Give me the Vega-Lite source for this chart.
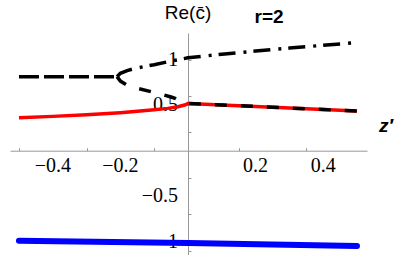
{
  "$schema": "https://vega.github.io/schema/vega-lite/v6.json",
  "width": 357,
  "height": 222,
  "autosize": {"type": "none"},
  "padding": {"left": 10, "top": 33, "right": 48, "bottom": 0},
  "background": "white",
  "config": {"view": {"stroke": null}},
  "datasets": {
    "curves": [
      {"s": "blue", "z": -0.5, "v": -0.989},
      {"s": "blue", "z": 0, "v": -1.015},
      {"s": "blue", "z": 0.5, "v": -1.047},
      {"s": "red", "z": -0.5, "v": 0.363},
      {"s": "red", "z": -0.4, "v": 0.377},
      {"s": "red", "z": -0.3, "v": 0.395},
      {"s": "red", "z": -0.2, "v": 0.418},
      {"s": "red", "z": -0.15, "v": 0.432},
      {"s": "red", "z": -0.1, "v": 0.449},
      {"s": "red", "z": -0.06, "v": 0.465},
      {"s": "red", "z": -0.03, "v": 0.483},
      {"s": "red", "z": -0.01, "v": 0.502},
      {"s": "red", "z": 0, "v": 0.518},
      {"s": "red", "z": 0.1, "v": 0.502},
      {"s": "red", "z": 0.2, "v": 0.486},
      {"s": "red", "z": 0.3, "v": 0.469},
      {"s": "red", "z": 0.4, "v": 0.452},
      {"s": "red", "z": 0.5, "v": 0.436},
      {"s": "left", "z": -0.5, "v": 0.813},
      {"s": "left", "z": -0.21, "v": 0.813},
      {"s": "lower", "z": -0.21, "v": 0.813},
      {"s": "lower", "z": -0.2, "v": 0.765},
      {"s": "lower", "z": -0.18, "v": 0.72},
      {"s": "lower", "z": -0.15, "v": 0.685},
      {"s": "lower", "z": -0.1, "v": 0.64},
      {"s": "lower", "z": -0.05, "v": 0.59},
      {"s": "lower", "z": -0.02, "v": 0.552},
      {"s": "lower", "z": 0, "v": 0.518},
      {"s": "lower", "z": 0.1, "v": 0.502},
      {"s": "lower", "z": 0.2, "v": 0.486},
      {"s": "lower", "z": 0.3, "v": 0.469},
      {"s": "lower", "z": 0.4, "v": 0.452},
      {"s": "lower", "z": 0.5, "v": 0.436},
      {"s": "upper", "z": -0.21, "v": 0.813},
      {"s": "upper", "z": -0.2, "v": 0.85},
      {"s": "upper", "z": -0.18, "v": 0.88},
      {"s": "upper", "z": -0.15, "v": 0.91},
      {"s": "upper", "z": -0.1, "v": 0.945},
      {"s": "upper", "z": -0.05, "v": 0.985},
      {"s": "upper", "z": 0, "v": 1.02},
      {"s": "upper", "z": 0.1, "v": 1.06},
      {"s": "upper", "z": 0.2, "v": 1.095},
      {"s": "upper", "z": 0.3, "v": 1.127},
      {"s": "upper", "z": 0.4, "v": 1.158},
      {"s": "upper", "z": 0.5, "v": 1.187}
    ],
    "xlabels": [
      {"lab": "−0.4", "z": -0.4, "v": 0},
      {"lab": "−0.2", "z": -0.2, "v": 0},
      {"lab": "0.2", "z": 0.2, "v": 0},
      {"lab": "0.4", "z": 0.4, "v": 0}
    ],
    "ylabels": [
      {"lab": "1", "z": 0, "v": 1},
      {"lab": "0.5", "z": 0, "v": 0.5},
      {"lab": "−0.5", "z": 0, "v": -0.5},
      {"lab": "−1", "z": 0, "v": -1}
    ]
  },
  "layer": [
    {
      "data": {"name": "xlabels"},
      "mark": {"type": "text", "font": "Liberation Serif", "fontSize": 20, "align": "center", "baseline": "top", "dy": 5, "color": "black"},
      "encoding": {
        "x": {
          "field": "z", "type": "quantitative",
          "scale": {"domain": [-0.5266, 0.5296], "nice": false, "zero": false},
          "axis": {
            "orient": "bottom", "offset": -104.3, "title": null, "grid": false, "labels": false,
            "values": [-0.5, -0.45, -0.4, -0.35, -0.3, -0.25, -0.2, -0.15, -0.1, -0.05, 0.05, 0.1, 0.15, 0.2, 0.25, 0.3, 0.35, 0.4, 0.45, 0.5],
            "tickSize": -3, "tickColor": "#999999", "tickWidth": 1,
            "domainColor": "#999999", "domainWidth": 1
          }
        },
        "y": {
          "field": "v", "type": "quantitative",
          "scale": {"domain": [-1.146, 1.293], "nice": false, "zero": false},
          "axis": {
            "orient": "left", "offset": -178, "title": null, "grid": false, "labels": false,
            "values": [-1.1, -1, -0.9, -0.8, -0.7, -0.6, -0.5, -0.4, -0.3, -0.2, -0.1, 0.1, 0.2, 0.3, 0.4, 0.5, 0.6, 0.7, 0.8, 0.9, 1, 1.1, 1.2],
            "tickSize": -3, "tickColor": "#999999", "tickWidth": 1,
            "domainColor": "#999999", "domainWidth": 1
          }
        },
        "text": {"field": "lab"}
      }
    },
    {
      "data": {"name": "ylabels"},
      "mark": {"type": "text", "font": "Liberation Serif", "fontSize": 20, "align": "right", "baseline": "middle", "dx": -10, "color": "black"},
      "encoding": {
        "x": {"field": "z", "type": "quantitative", "scale": {"domain": [-0.5266, 0.5296], "nice": false, "zero": false}},
        "y": {"field": "v", "type": "quantitative", "scale": {"domain": [-1.146, 1.293], "nice": false, "zero": false}},
        "text": {"field": "lab"}
      }
    },
    {
      "data": {"name": "curves"},
      "transform": [{"filter": "datum.s === 'blue'"}],
      "mark": {"type": "line", "color": "#0000ff", "strokeWidth": 6, "strokeCap": "round"},
      "encoding": {
        "x": {"field": "z", "type": "quantitative", "scale": {"domain": [-0.5266, 0.5296], "nice": false, "zero": false}},
        "y": {"field": "v", "type": "quantitative", "scale": {"domain": [-1.146, 1.293], "nice": false, "zero": false}}
      }
    },
    {
      "data": {"name": "curves"},
      "transform": [{"filter": "datum.s === 'red'"}],
      "mark": {"type": "line", "color": "#ff0000", "strokeWidth": 3.5},
      "encoding": {
        "x": {"field": "z", "type": "quantitative", "scale": {"domain": [-0.5266, 0.5296], "nice": false, "zero": false}},
        "y": {"field": "v", "type": "quantitative", "scale": {"domain": [-1.146, 1.293], "nice": false, "zero": false}}
      }
    },
    {
      "data": {"name": "curves"},
      "transform": [{"filter": "indexof(['left','lower','upper'], datum.s) >= 0"}],
      "mark": {"type": "line", "color": "black", "strokeWidth": 3.5, "strokeCap": "butt"},
      "encoding": {
        "x": {"field": "z", "type": "quantitative", "scale": {"domain": [-0.5266, 0.5296], "nice": false, "zero": false}},
        "y": {"field": "v", "type": "quantitative", "scale": {"domain": [-1.146, 1.293], "nice": false, "zero": false}},
        "detail": {"field": "s", "type": "nominal"},
        "strokeDash": {
          "field": "s", "type": "nominal",
          "scale": {"domain": ["left", "lower", "upper"], "range": [[20, 5], [12, 14], [17, 8, 3, 7]]},
          "legend": null
        }
      }
    },
    {
      "data": {"values": [{"t": "Re(c̄)", "z": 0, "v": 1.45}]},
      "mark": {"type": "text", "font": "Liberation Sans", "fontSize": 19, "align": "center", "baseline": "alphabetic", "color": "black"},
      "encoding": {
        "x": {"field": "z", "type": "quantitative", "scale": {"domain": [-0.5266, 0.5296], "nice": false, "zero": false}},
        "y": {"field": "v", "type": "quantitative", "scale": {"domain": [-1.146, 1.293], "nice": false, "zero": false}},
        "text": {"field": "t"}
      }
    },
    {
      "data": {"values": [{"t": "r=2", "z": 0.24, "v": 1.40}]},
      "mark": {"type": "text", "font": "Liberation Sans", "fontSize": 19, "fontWeight": "bold", "align": "center", "baseline": "alphabetic", "color": "black"},
      "encoding": {
        "x": {"field": "z", "type": "quantitative", "scale": {"domain": [-0.5266, 0.5296], "nice": false, "zero": false}},
        "y": {"field": "v", "type": "quantitative", "scale": {"domain": [-1.146, 1.293], "nice": false, "zero": false}},
        "text": {"field": "t"}
      }
    },
    {
      "data": {"values": [{"t": "z′", "z": 0.586, "v": 0.205}]},
      "mark": {"type": "text", "font": "Liberation Sans", "fontSize": 19, "fontWeight": "bold", "fontStyle": "italic", "align": "center", "baseline": "alphabetic", "color": "black"},
      "encoding": {
        "x": {"field": "z", "type": "quantitative", "scale": {"domain": [-0.5266, 0.5296], "nice": false, "zero": false}},
        "y": {"field": "v", "type": "quantitative", "scale": {"domain": [-1.146, 1.293], "nice": false, "zero": false}},
        "text": {"field": "t"}
      }
    }
  ]
}
